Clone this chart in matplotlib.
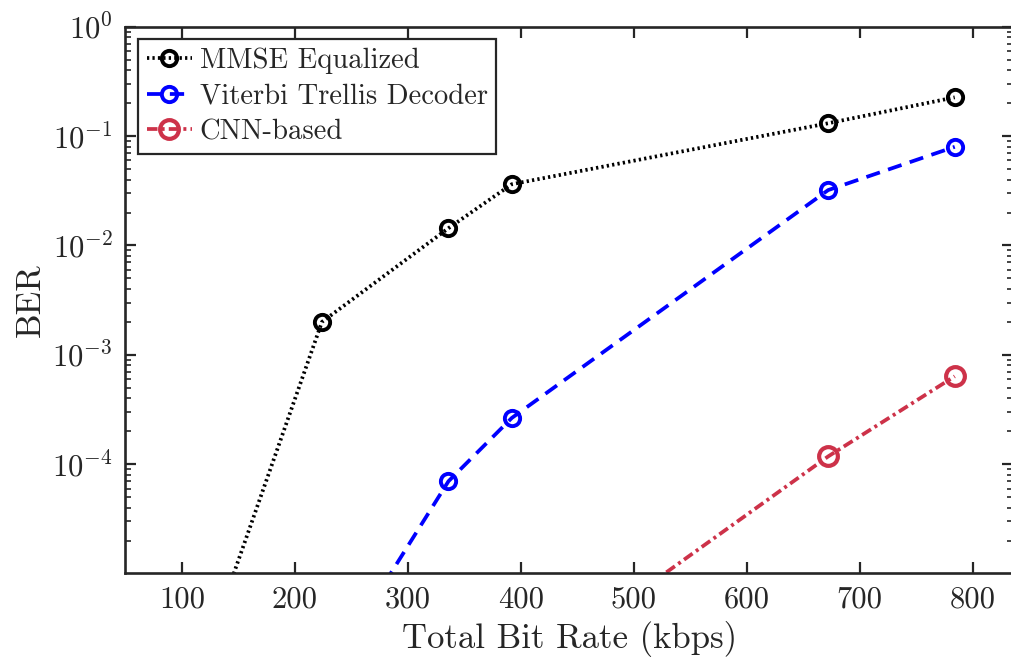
import numpy as np
import matplotlib
matplotlib.use("Agg")
import matplotlib.pyplot as plt

plt.rcParams['font.family'] = 'serif'
plt.rcParams['font.serif'] = ['cmr10']
plt.rcParams['mathtext.fontset'] = 'cm'
plt.rcParams['axes.formatter.use_mathtext'] = True

# Data
bit_rate = [112, 224, 336, 392, 672, 784]
ber_mmse = [1.0e-6, 2.0e-3, 1.44e-2, 3.63e-2, 0.131, 0.226]
ber_viterbi = [1.0e-6, 1.0e-6, 7.0e-5, 2.65e-4, 3.21e-2, 7.98e-2]
ber_cnn = [1.0e-6, 1.0e-6, 1.0e-6, 1.0e-6, 1.18e-4, 6.37e-4]
series_names = ['MMSE Equalized', 'Viterbi Trellis Decoder', 'CNN-based']
x_ticks = [100, 200, 300, 400, 500, 600, 700, 800]

W, H = 1012, 660
fig = plt.figure(figsize=(W/100, H/100), dpi=100)
ax_w = 1013.5 - 125.3
ax_h = 573.2 - 26.7
ax = fig.add_axes([125.3/W, 1-573.2/H, ax_w/W, ax_h/H])

ax.plot(bit_rate, ber_mmse, color='black', linestyle=(0, (0.6, 0.85)), linewidth=2.7,
        marker='o', markersize=11, markerfacecolor='none', markeredgewidth=2.8,
        label=series_names[0])
ax.plot(bit_rate, ber_viterbi, color='#0000FF', linestyle=(0, (3.8, 2.3)), linewidth=2.7,
        marker='o', markersize=11, markerfacecolor='none', markeredgewidth=2.8,
        label=series_names[1])
ax.plot(bit_rate, ber_cnn, color='#CD3249', linestyle=(0, (2.8, 1.1, 0.8, 1.1)), linewidth=2.7,
        marker='o', markersize=13.5, markerfacecolor='none', markeredgewidth=3.0,
        label=series_names[2])

ax.set_yscale('log')
ax.set_xlim(50, 836)
ax.set_ylim(1.01e-5, 1)
ax.set_xticks(x_ticks)
ax.set_xticklabels([str(t) for t in x_ticks])
ax.set_yticks([1e-4, 1e-3, 1e-2, 1e-1, 1e0])
ax.yaxis.set_minor_locator(matplotlib.ticker.LogLocator(base=10, subs=np.arange(2, 10)))
ax.yaxis.set_minor_formatter(matplotlib.ticker.NullFormatter())

for s in ax.spines.values():
    s.set_color('#262626')
    s.set_linewidth(1.9)
ax.tick_params(axis='both', which='major', direction='in', length=8, width=1.6,
               colors='#262626', labelsize=22, top=True, right=True, pad=9)
ax.tick_params(axis='y', which='minor', direction='in', length=4.5, width=1.2,
               colors='#262626', left=True, right=True)
ax.tick_params(axis='x', which='minor', bottom=False, top=False)
for lbl in ax.get_xticklabels() + ax.get_yticklabels():
    lbl.set_color('#262626')

ax.set_xlabel('Total Bit Rate (kbps)', fontsize=25, color='#262626', labelpad=6)
ax.set_ylabel('BER', fontsize=25, color='#262626', labelpad=3.5)

leg = ax.legend(loc='upper left', bbox_to_anchor=(12.7/ax_w, 1-(39-26.7)/ax_h), fontsize=20.6,
                handlelength=1.6, handletextpad=0.25, borderpad=0.3,
                labelspacing=0.32, fancybox=False, framealpha=1, borderaxespad=0.0)
leg.get_frame().set_edgecolor('#262626')
leg.get_frame().set_linewidth(1.6)
for t in leg.get_texts():
    t.set_color('#262626')

fig.savefig('out.png', dpi=100)
